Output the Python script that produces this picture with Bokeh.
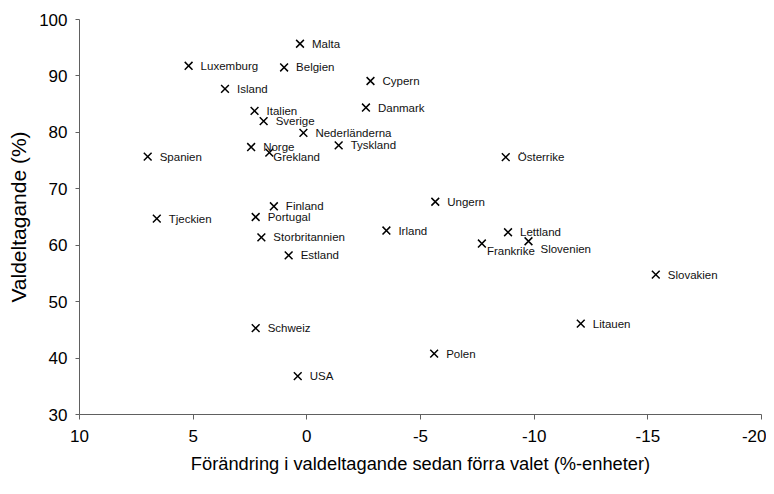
from bokeh.plotting import figure
from bokeh.models import Range1d, FixedTicker, ColumnDataSource
from bokeh.core.properties import value
from bokeh.embed import file_html
from bokeh.resources import INLINE

countries = ["Malta", "Luxemburg", "Belgien", "Island", "Cypern", "Danmark", "Italien",
             "Sverige", "Nederländerna", "Norge", "Grekland", "Tyskland", "Spanien",
             "Österrike", "Ungern", "Finland", "Tjeckien", "Portugal", "Irland", "Lettland",
             "Frankrike", "Slovenien", "Storbritannien", "Estland", "Slovakien", "Litauen",
             "Schweiz", "Polen", "USA"]
change = [0.3, 5.2, 1.0, 3.6, -2.8, -2.6, 2.3,
          1.9, 0.15, 2.45, 1.65, -1.4, 7.0,
          -8.75, -5.65, 1.45, 6.6, 2.25, -3.5, -8.85,
          -7.7, -9.75, 2.0, 0.8, -15.35, -12.05,
          2.25, -5.6, 0.4]
turnout = [95.7, 91.8, 91.5, 87.7, 89.1, 84.4, 83.8,
           82.0, 79.9, 77.4, 76.4, 77.7, 75.7,
           75.6, 67.7, 66.9, 64.7, 65.0, 62.6, 62.3,
           60.3, 60.7, 61.4, 58.2, 54.8, 46.1,
           45.3, 40.8, 36.8]

x_ticks = [10, 5, 0, -5, -10, -15, -20]
x_tick_labels = ["10", "5", "0", "-5", "-10", "-15", "-20"]
y_ticks = [30, 40, 50, 60, 70, 80, 90, 100]

# label placement (style): default right of marker, some shifted
label_shift = {"Grekland": (4, 4), "Frankrike": (5, 7), "Slovenien": (12, 8)}
x_off = [label_shift.get(c, (12, 0))[0] for c in countries]
y_off = [label_shift.get(c, (12, 0))[1] for c in countries]

src = ColumnDataSource(dict(x=change, y=turnout, name=countries, xo=x_off, yo=y_off))

FONT = "Liberation Sans"

p = figure(width=766, height=486, output_backend="svg", toolbar_location=None,
           x_range=Range1d(10, -20), y_range=Range1d(30, 100),
           min_border_left=79, min_border_right=5, min_border_top=19, min_border_bottom=72)
p.outline_line_color = None
p.border_fill_color = "white"
p.xgrid.visible = False
p.ygrid.visible = False
p.background_fill_color = "white"

p.scatter("x", "y", source=src, marker="x", size=11, line_color="black", line_width=1.5)
p.text("x", "y", text="name", source=src, x_offset="xo", y_offset="yo",
       text_font=value(FONT), text_font_size="11.5px", text_color="#111111",
       text_baseline="middle", text_align="left")

for ax in (p.xaxis[0], p.yaxis[0]):
    ax.axis_line_color = "#606060"
    ax.major_tick_line_color = "#606060"
    ax.minor_tick_line_color = None
    ax.major_tick_in = 0
    ax.major_label_text_font = FONT
    ax.major_label_text_font_size = "17px"
    ax.major_label_text_color = "black"
    ax.axis_label_text_font = FONT
    ax.axis_label_text_font_style = "normal"
    ax.axis_label_text_color = "black"

p.xaxis.ticker = FixedTicker(ticks=x_ticks)
p.xaxis.major_label_overrides = dict(zip(x_ticks, x_tick_labels))
p.yaxis.ticker = FixedTicker(ticks=y_ticks)
p.xaxis.major_tick_out = 5
p.yaxis.major_tick_out = 4
p.xaxis.major_label_standoff = 10
p.yaxis.major_label_standoff = 8
p.xaxis.axis_label = "Förändring i valdeltagande sedan förra valet (%-enheter)"
p.yaxis.axis_label = "Valdeltagande (%)"
p.xaxis.axis_label_text_font_size = "18.3px"
p.yaxis.axis_label_text_font_size = "21px"
p.xaxis.axis_label_standoff = 8
p.yaxis.axis_label_standoff = 6

open("out.html", "w").write(file_html(p, INLINE))
